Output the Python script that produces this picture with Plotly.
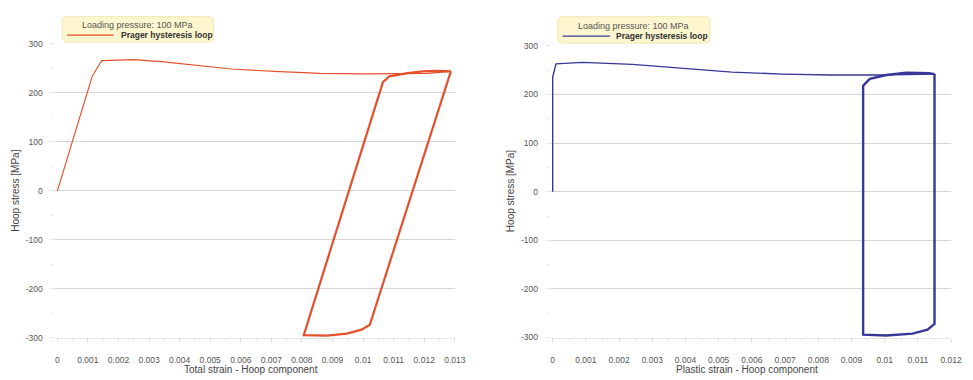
import plotly.graph_objects as go

# ---- data: hoop stress [MPa] vs hoop strain, Prager kinematic hardening ----
# total strain, first loading up to the first reversal
total_load_strain = [0, 0.00114, 0.00145, 0.0025, 0.0034, 0.0046, 0.0057, 0.0071,
                     0.0086, 0.0100, 0.0111, 0.0121, 0.01287]
total_load_stress = [0, 234, 266, 268, 264, 256, 249, 244, 240, 239, 239, 240, 244]
# total strain, stabilised cycles
total_cycle_strain = [0.01287, 0.01022, 0.00995, 0.00947, 0.00882, 0.00806,
                      0.01065, 0.01086, 0.0114, 0.01195, 0.0124, 0.01287]
total_cycle_stress = [244, -273, -283, -291, -295, -294, 222, 234, 240, 244, 245, 244]

# plastic strain, first loading
plastic_load_strain = [0, 0, 0.0001, 0.0009, 0.0024, 0.0039, 0.0054, 0.0069,
                       0.0084, 0.00985, 0.0108, 0.0115]
plastic_load_stress = [0, 236, 263, 266, 262, 254, 246, 242, 240, 240, 241, 242]
# plastic strain, stabilised cycles
plastic_cycle_strain = [0.0115, 0.0115, 0.01129, 0.01084, 0.01005, 0.00935,
                        0.00935, 0.00955, 0.01005, 0.01065, 0.01134, 0.0115]
plastic_cycle_stress = [242, -272, -284, -292, -296, -294, 218, 232, 240, 245, 244, 242]

stress_ticks = [-300, -200, -100, 0, 100, 200, 300]
stress_labels = ["-300", "-200", "-100", "0", "100", "200", "300"]
total_ticks = [i / 1000 for i in range(14)]
total_labels = ["0"] + [f"{i / 1000:g}" for i in range(1, 14)]
plastic_ticks = [i / 1000 for i in range(13)]
plastic_labels = ["0"] + [f"{i / 1000:g}" for i in range(1, 13)]

legend_title = "Loading pressure: 100 MPa"
series_name = "Prager hysteresis loop"
y_title = "Hoop stress [MPa]"
x_title_total = "Total strain - Hoop component"
x_title_plastic = "Plastic strain - Hoop component"

ORANGE = "#e4502b"
BLUE = "#373797"
FONT = "Liberation Sans, Arial, sans-serif"
W, H = 973, 380


def px(x):
    return x / W


def py(y):
    return 1 - y / H


fig = go.Figure()
fig.add_trace(go.Scatter(x=total_load_strain, y=total_load_stress, mode="lines",
                         line=dict(color=ORANGE, width=1.1), xaxis="x", yaxis="y",
                         showlegend=False, name=series_name))
fig.add_trace(go.Scatter(x=total_cycle_strain, y=total_cycle_stress, mode="lines",
                         line=dict(color=ORANGE, width=2.2), xaxis="x", yaxis="y",
                         showlegend=False, name=series_name))
fig.add_trace(go.Scatter(x=plastic_load_strain, y=plastic_load_stress, mode="lines",
                         line=dict(color=BLUE, width=1.4), xaxis="x2", yaxis="y2",
                         showlegend=False, name=series_name))
fig.add_trace(go.Scatter(x=plastic_cycle_strain, y=plastic_cycle_stress, mode="lines",
                         line=dict(color=BLUE, width=2.4), xaxis="x2", yaxis="y2",
                         showlegend=False, name=series_name))

tickfont = dict(family=FONT, size=8.5, color="#555555")
minor_x = dict(dtick=0.0005, ticks="outside", ticklen=3, tickcolor="#ececec")
common_x = dict(showgrid=False, zeroline=False, ticks="outside", ticklen=4,
                tickcolor="#e2e2e2", tickfont=tickfont, showline=True,
                linecolor="#e4e4e4", linewidth=1, ticklabelstandoff=10, minor=minor_x)
common_y = dict(range=[-300, 300], tickvals=stress_ticks, ticktext=stress_labels,
                showgrid=True, gridcolor="#d6d6d6", gridwidth=1, zeroline=False,
                ticks="outside", ticklen=4, tickcolor="#e6e6e6", tickfont=tickfont,
                showline=False, ticklabelstandoff=6,
                minor=dict(dtick=50, ticks="outside", ticklen=4, tickcolor="#eeeeee"))

# x ranges start a hair below zero so lines at zero strain are not clipped
pad_total = 0.013 / 402 * 2
pad_plastic = 0.012 / 403 * 2

fig.update_layout(
    width=W, height=H, margin=dict(l=0, r=0, t=0, b=0),
    paper_bgcolor="white", plot_bgcolor="white",
    font=dict(family=FONT, color="#444444"),
    xaxis=dict(domain=[px(56), px(460)], range=[-pad_total, 0.013], tickvals=total_ticks,
               ticktext=total_labels, anchor="y", **common_x),
    yaxis=dict(domain=[py(342), py(40)], anchor="x", **common_y),
    xaxis2=dict(domain=[px(557), px(962)], range=[-pad_plastic, 0.012],
                tickvals=plastic_ticks, ticktext=plastic_labels, anchor="y2", **common_x),
    yaxis2=dict(domain=[py(341.5), py(42)], anchor="x2", **common_y),
)

shapes = []
annotations = []


def rounded_box(x0, y0, x1, y1, r=5):
    # rounded rectangle path in paper coordinates from pixel corners
    rx, ry = r / W, r / H
    X0, X1 = px(x0), px(x1)
    Y0, Y1 = py(y0), py(y1)  # Y0 top, Y1 bottom
    return (f"M{X0 + rx},{Y0} L{X1 - rx},{Y0} Q{X1},{Y0} {X1},{Y0 - ry} "
            f"L{X1},{Y1 + ry} Q{X1},{Y1} {X1 - rx},{Y1} L{X0 + rx},{Y1} "
            f"Q{X0},{Y1} {X0},{Y1 + ry} L{X0},{Y0 - ry} Q{X0},{Y0} {X0 + rx},{Y0} Z")


def legend_block(box, title_xy, line_x, line_y, text_x, color):
    shapes.append(dict(type="path", xref="paper", yref="paper",
                       path=rounded_box(*box), fillcolor="#fdf6cf",
                       line=dict(color="#f2e6b2", width=1), layer="above"))
    shapes.append(dict(type="line", xref="paper", yref="paper",
                       x0=px(line_x[0]), x1=px(line_x[1]), y0=py(line_y), y1=py(line_y),
                       line=dict(color=color, width=1.3), layer="above"))
    annotations.append(dict(text=legend_title, xref="paper", yref="paper",
                            x=px(title_xy[0]), y=py(title_xy[1]), xanchor="center",
                            yanchor="middle", showarrow=False,
                            font=dict(family=FONT, size=9, color="#555555")))
    annotations.append(dict(text=f"<b>{series_name}</b>", xref="paper", yref="paper",
                            x=px(text_x), y=py(line_y), xanchor="left",
                            yanchor="middle", showarrow=False,
                            font=dict(family=FONT, size=8.5, color="#333333")))


legend_block((63, 12, 216, 38), (139.5, 21), (68, 115), 31, 120, ORANGE)
legend_block((564, 12, 718, 39), (640.5, 22), (569, 617), 32, 621, BLUE)

for xc, text in ((254, x_title_total), (756, x_title_plastic)):
    annotations.append(dict(text=text, xref="paper", yref="paper", x=px(xc), y=py(374),
                            xanchor="center", yanchor="middle", showarrow=False,
                            font=dict(family=FONT, size=10, color="#444444")))
for xc in (16, 517):
    annotations.append(dict(text=y_title, xref="paper", yref="paper", x=px(xc), y=py(191),
                            xanchor="center", yanchor="middle", textangle=-90,
                            showarrow=False,
                            font=dict(family=FONT, size=10, color="#444444")))

fig.update_layout(shapes=shapes, annotations=annotations)
fig.write_html("out.html")
